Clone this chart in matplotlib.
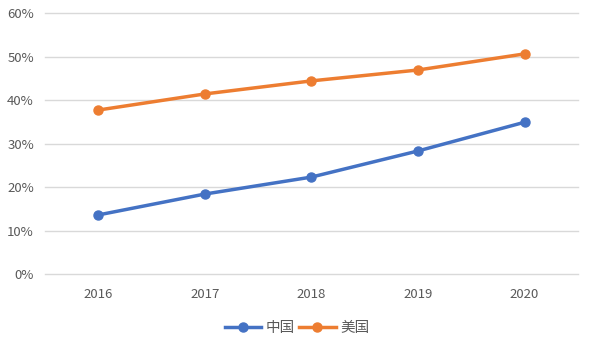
import matplotlib
matplotlib.use("Agg")
import matplotlib.pyplot as plt
from matplotlib.ticker import FuncFormatter

plt.rcParams['font.family'] = ['Noto Sans CJK SC', 'DejaVu Sans']

years = ["2016", "2017", "2018", "2019", "2020"]
china = [13.6, 18.4, 22.3, 28.3, 34.9]
usa = [37.7, 41.4, 44.4, 46.9, 50.6]
series_names = ["中国", "美国"]
yticks = [0, 10, 20, 30, 40, 50, 60]

fig = plt.figure(figsize=(5.94, 3.51), dpi=100)
ax = fig.add_axes([0.0758, 0.219, 0.897, 0.744])

x = list(range(len(years)))
ax.plot(x, china, color="#4472C4", lw=2.5, marker="o", ms=6.5, label=series_names[0], zorder=3)
ax.plot(x, usa, color="#ED7D31", lw=2.5, marker="o", ms=6.5, label=series_names[1], zorder=3)

ax.set_xlim(-0.5, len(years) - 0.5)
ax.set_ylim(0, 60)
ax.set_yticks(yticks)
ax.yaxis.set_major_formatter(FuncFormatter(lambda v, p: f"{int(v)}%"))
ax.set_xticks(x)
ax.set_xticklabels(years)
ax.grid(axis="y", color="#D9D9D9", lw=1)
for gl in ax.get_ygridlines():
    gl.set_clip_on(False)
ax.set_axisbelow(True)
for s in ax.spines.values():
    s.set_visible(False)
ax.tick_params(length=0, colors="#595959", labelsize=9.5)
ax.tick_params(axis="x", pad=10)
ax.tick_params(axis="y", pad=8)

fig.legend(loc="center", bbox_to_anchor=(0.5, 0.065), ncol=2, frameon=False,
           fontsize=10.5, labelcolor="#595959", handlelength=2.5, columnspacing=0.3,
           handletextpad=0.3)

fig.savefig("out.png", dpi=100)
